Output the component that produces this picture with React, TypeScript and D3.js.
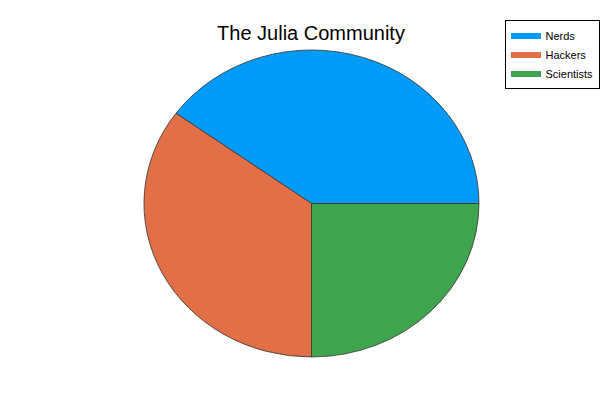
import { useEffect, useRef } from "react"
import * as d3 from "d3"

// pie data
const categories = ["Nerds", "Hackers", "Scientists"]
const shares = [0.4, 0.35, 0.25]
const colors = ["#009af9", "#e26f46", "#3ea44e"]

export default function App() {
  const svgRef = useRef<SVGSVGElement>(null)

  useEffect(() => {
    if (!svgRef.current) return
    const svg = d3.select(svgRef.current)
    svg.selectAll("*").remove()

    const width = 600
    const height = 400
    const cx = 311.5
    const cy = 203.5
    const rx = 167.5
    const ry = 153.5

    svg.append("rect").attr("width", width).attr("height", height).attr("fill", "#fff")

    // Plots.jl draws counter-clockwise starting from the east
    const pie = d3
      .pie<number>()
      .sort(null)
      .startAngle(Math.PI / 2)
      .endAngle(Math.PI / 2 - 2 * Math.PI)

    const arc = d3.arc<d3.PieArcDatum<number>>().innerRadius(0).outerRadius(1)

    const g = svg.append("g").attr("transform", `translate(${cx},${cy}) scale(${rx},${ry})`)

    g.selectAll("path")
      .data(pie(shares))
      .enter()
      .append("path")
      .attr("d", (d) => arc(d) as string)
      .attr("fill", (_, i) => colors[i])
      .attr("stroke", "#333")
      .attr("stroke-width", 0.8)
      .attr("vector-effect", "non-scaling-stroke")

    // title
    svg
      .append("text")
      .attr("x", 311)
      .attr("y", 40)
      .attr("text-anchor", "middle")
      .style("font-family", "'Liberation Sans', Arial, sans-serif")
      .style("font-size", "20px")
      .attr("fill", "#000")
      .text("The Julia Community")

    // legend
    const legend = svg.append("g").attr("transform", "translate(505.5,20.5)")
    legend
      .append("rect")
      .attr("width", 94)
      .attr("height", 68)
      .attr("fill", "#fff")
      .attr("stroke", "#000")
      .attr("stroke-width", 1)

    const ly = d3.scaleBand().domain(categories).range([6, 63])

    categories.forEach((name, i) => {
      const y = (ly(name) || 0) + ly.bandwidth() / 2
      legend
        .append("rect")
        .attr("x", 5.5)
        .attr("y", y - 3)
        .attr("width", 30)
        .attr("height", 6)
        .attr("fill", colors[i])
      legend
        .append("text")
        .attr("x", 40)
        .attr("y", y + 4)
        .style("font-family", "'Liberation Sans', Arial, sans-serif")
        .style("font-size", "11px")
        .attr("fill", "#000")
        .text(name)
    })
  }, [])

  return (
    <svg
      ref={svgRef}
      width={600}
      height={400}
      style={{ position: "absolute", left: 0, top: 0, display: "block" }}
    />
  )
}
